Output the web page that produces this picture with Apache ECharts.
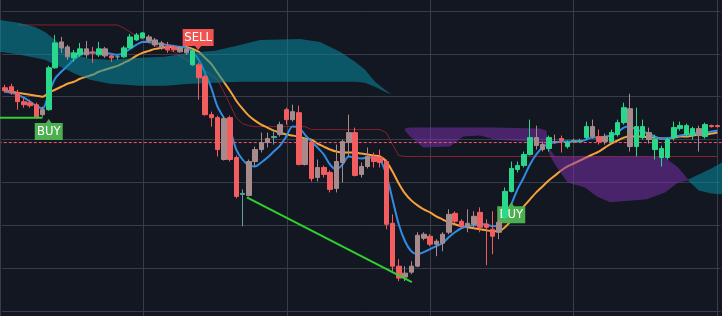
<!DOCTYPE html>
<html>
<head>
<meta charset="utf-8">
<script src="https://cdn.jsdelivr.net/npm/echarts@6/dist/echarts.min.js"></script>
<style>
html, body { margin: 0; padding: 0; background: #131722; }
#chart { width: 722px; height: 316px; }
</style>
</head>
<body>
<div id="chart"></div>
<script>
// candles: [open, close, low, high]
const candles = [
  [224, 221, 219, 227], [225, 219, 217, 228], [219, 210, 202, 222], [210, 207, 204, 214], [209, 206, 204, 212],
  [207, 194, 193, 209], [197, 202, 195, 205], [202, 244, 201, 246], [244, 269, 243, 277], [270, 264, 259, 275],
  [265, 255, 252, 267], [254, 259, 250, 262], [257, 263, 255, 269], [263, 257, 254, 271], [260, 259, 249, 265],
  [257, 263, 255, 270], [263, 256, 254, 265], [256, 254, 250, 257], [255, 255, 252, 257], [255, 264, 254, 266],
  [264, 275, 263, 278], [272, 277, 271, 279], [274, 279, 273, 280], [275, 271, 269, 277], [272, 267, 265, 274],
  [269, 264, 262, 271], [266, 262, 259, 270], [265, 262, 260, 267], [264, 260, 259, 266], [263, 259, 257, 265],
  [247, 261, 246, 263], [247, 234, 212, 249], [235, 197, 196, 237], [197, 194, 185, 200], [194, 162, 155, 196],
  [193, 152, 151, 195], [194, 152, 150, 196], [154, 115, 113, 156], [117, 118, 85, 122], [116, 150, 115, 152],
  [150, 162, 145, 165], [162, 169, 159, 179], [169, 173, 164, 179], [174, 175, 167, 180], [177, 187, 175, 190],
  [202, 192, 187, 204], [192, 200, 190, 207], [199, 147, 146, 206], [172, 147, 146, 174], [169, 133, 130, 172],
  [134, 144, 130, 152], [144, 137, 134, 146], [139, 122, 119, 141], [123, 150, 119, 167], [149, 170, 129, 172],
  [169, 179, 155, 197], [179, 136, 135, 184], [137, 145, 134, 149], [145, 155, 143, 164], [155, 150, 144, 159],
  [154, 149, 144, 162], [150, 87, 82, 152], [88, 45, 40, 97], [45, 33, 30, 52], [34, 38, 30, 45],
  [39, 45, 37, 50], [45, 76, 44, 79], [73, 77, 71, 79], [75, 67, 65, 77], [67, 70, 55, 72],
  [68, 77, 60, 79], [79, 97, 77, 102], [98, 90, 88, 100], [90, 85, 83, 92], [88, 85, 79, 102],
  [87, 95, 83, 100], [99, 84, 79, 104], [87, 84, 46, 92], [82, 75, 57, 100], [79, 89, 72, 91],
  [94, 120, 92, 124], [120, 143, 119, 150], [142, 146, 139, 150], [146, 157, 144, 160], [157, 174, 156, 192],
  [174, 166, 162, 186], [167, 162, 160, 170], [163, 174, 160, 176], [170, 170, 168, 177], [173, 171, 159, 176],
  [165, 169, 163, 171], [170, 171, 169, 173], [170, 171, 169, 173], [174, 185, 172, 190], [185, 175, 173, 192],
  [175, 170, 167, 182], [170, 175, 167, 178], [170, 179, 168, 182], [177, 189, 175, 192], [189, 204, 187, 209],
  [203, 165, 160, 218], [165, 185, 155, 204], [174, 185, 172, 192], [179, 172, 168, 184], [162, 172, 152, 177],
  [154, 163, 145, 166], [154, 172, 152, 174], [174, 184, 171, 190], [183, 186, 181, 190], [177, 186, 174, 188],
  [176, 183, 172, 185], [183, 176, 160, 186], [175, 187, 173, 189], [186, 185, 184, 187], [186, 185, 184, 187]
];
// bars painted grey / teal by the indicator
const mutedBars = [6, 9, 10, 13, 16, 23, 24, 25, 28, 29, 35, 39, 40, 41, 42, 44, 46, 48, 50, 53, 54, 55, 57, 58,
  64, 65, 66, 67, 69, 70, 71, 74, 75, 79, 85, 86, 88, 94, 96, 100, 103, 111];
const crossBars = [18, 38, 43, 91, 92];

const fastLine = [
  220, 219, 217, 214, 210, 206, 203, 218, 233, 240,
  246, 252, 257, 259, 259, 259, 259, 258, 257, 259,
  263, 267, 270, 270, 269, 268, 267, 266, 265, 264,
  260, 252, 239, 224, 205, 194, 182, 162, 152, 146,
  145, 149, 154, 160, 166, 175, 185, 184, 177, 170,
  164, 157, 147, 142, 147, 155, 154, 153, 154, 154,
  152, 137, 112, 87, 70, 60, 57, 59, 62, 65,
  68, 74, 79, 83, 85, 86, 87, 87, 85, 86,
  94, 107, 122, 134, 147, 157, 164, 168, 169, 170,
  170, 170, 170, 172, 174, 174, 175, 176, 179, 184,
  185, 182, 180, 178, 175, 173, 173, 175, 176, 177,
  178, 179, 179, 180, 181
];
const slowLine = [
  221, 220, 219, 218, 217, 216, 215, 219, 222, 225,
  228, 230, 233, 235, 237, 240, 242, 244, 246, 249,
  252, 256, 259, 261, 263, 264, 265, 265, 265, 265,
  263, 260, 254, 248, 239, 230, 221, 211, 203, 196,
  191, 187, 184, 181, 179, 177, 176, 175, 173, 172,
  168, 165, 162, 160, 159, 159, 159, 158, 157, 156,
  155, 150, 140, 128, 118, 111, 106, 102, 99, 95,
  92, 89, 87, 85, 84, 83, 82, 81, 80, 80,
  84, 91, 98, 105, 112, 119, 125, 131, 136, 141,
  145, 148, 151, 154, 157, 160, 164, 168, 171, 174,
  175, 175, 175, 174, 174, 173, 173, 174, 175, 175,
  176, 177, 177, 178, 179
];
const baseLine = [
  null, null, 287, 287, 287, 287, 287, 287, 287, 287,
  287, 287, 287, 287, 287, 287, 287, 287, 287, 284,
  280, 276, 272, 269, 266, 264, 262, 260, 256, 252,
  248, 245, 241, 237, 232, 220, 207, 194, 188, 186,
  185, 185, 185, 185, 185, 185, 185, 185, 185, 182,
  182, 182, 182, 182, 182, 182, 182, 182, 182, 182,
  182, 179, 167, 156, 155, 155, 155, 155, 155, 155,
  155, 155, 155, 155, 155, 155, 155, 155, 155, 155,
  155, 155, 155, 155, 155, 155, 155, 155, 155, 155,
  155, 155, 155, 155, 155, 155, 155, 155, 155, 155,
  155, 155, 155, 155, 155, 155, 155, 155, 155, 155,
  155, 155, 155, 155, 155
];

// cloud outlines: [bar, upper, lower]
const tealCloud = [
  [-0.8, 292, 260], [2.4, 289, 257], [4.8, 285, 254], [6.4, 280, 252], [8, 272, 247], [9.6, 264, 243],
  [11.2, 257, 238], [13.6, 253, 232], [16.8, 252, 228], [21.6, 254, 226], [25.6, 255, 226], [29.6, 259, 228],
  [33.6, 261, 229], [37.6, 267, 230], [40.8, 272, 230], [47.2, 273, 230], [50.4, 270, 230], [53.6, 260, 230],
  [56, 250, 230], [57.6, 242, 229], [59.2, 230, 225], [60.8, 222, 220], [61.9, 217, 217]
];
const purpleCloud = [
  [64, 183, 181], [64.8, 184, 175], [66.9, 184, 164], [71.2, 184, 165], [73.3, 184, 175], [76, 184, 176],
  [78.4, 184, 172], [85.6, 183, 169], [86.6, 181, 166], [87.2, 162, 156], [88, 155, 147], [90, 155, 129],
  [92.8, 155, 124], [94.7, 155, 115], [96.8, 155, 109], [102.7, 155, 112], [105.6, 154, 119],
  [107.7, 144, 129], [109.3, 132, 131]
];
const tealCloud2 = [[109.3, 132, 131], [111, 137, 121], [113, 143, 118], [115, 150, 117]];

const lastPrice = 169;
const trendFlat = [[-0.8, 194], [6, 194]];
const trendDown = [[38.7, 114], [65.1, 29]];
const signals = [
  { text: "BUY", at: [7, 182], up: true },
  { text: "SELL", at: [30.9, 272.5], up: false },
  { text: "BUY", at: [81, 98.5], up: true }
];

const UP = "#29d88b";
const DOWN = "#f25d5f";
const MUTED = "#a68b8d";
const CROSS = "#5aa3a0";

const barData = candles.map((c, i) => {
  let col = null;
  if (mutedBars.includes(i)) col = MUTED;
  if (crossBars.includes(i)) col = CROSS;
  if (!col) return c;
  return { value: c, itemStyle: { color: col, color0: col, borderColor: col, borderColor0: col } };
});

function cloud(points, fill) {
  return {
    type: "custom",
    xAxisIndex: 1,
    yAxisIndex: 0,
    z: 2,
    silent: true,
    data: [[0, 0]],
    renderItem: function (params, api) {
      const upper = points.map((p) => api.coord([p[0], p[1]]));
      const lower = points.map((p) => api.coord([p[0], p[2]])).reverse();
      return { type: "polygon", shape: { points: upper.concat(lower) }, style: { fill: fill } };
    },
  };
}

function signal(s) {
  const path = s.up
    ? "path://M0,4L12,4L15,0L18,4L30,4L30,22L0,22Z"
    : "path://M0,0L30,0L30,18L18,18L15,22L12,18L0,18Z";
  return {
    type: "scatter",
    xAxisIndex: 1,
    yAxisIndex: 0,
    z: 3,
    silent: true,
    symbol: path,
    symbolSize: s.text === "SELL" ? [31, 21] : [28, 21],
    itemStyle: { color: s.up ? "#4caf50" : "#f05350", opacity: 1 },
    label: {
      show: true,
      position: "inside",
      offset: [0, s.up ? 2 : -2],
      formatter: s.text,
      color: "#ffffff",
      fontSize: 13,
      fontFamily: "Liberation Sans Narrow, DejaVu Sans Condensed, sans-serif",
    },
    data: [s.at],
  };
}

const chartDom = document.getElementById("chart");
const myChart = echarts.init(chartDom, null, { renderer: "canvas" });

let option = {
  animation: false,
  backgroundColor: "#131722",
  grid: [
    { left: 1.875, right: 1.375, top: 11, bottom: 5 },
    { left: -2, right: 5, top: 0, bottom: 0 },
  ],
  xAxis: [
    {
      type: "category",
      gridIndex: 0,
      data: candles.map((c, i) => String(i)),
      boundaryGap: true,
      show: false,
    },
    { type: "value", gridIndex: 0, min: -0.5, max: 114.5, show: false },
    {
      type: "value",
      gridIndex: 1,
      min: 0,
      max: 5,
      interval: 1,
      axisLine: { show: false },
      axisTick: { show: false },
      axisLabel: { show: false },
      splitLine: { show: true, lineStyle: { color: "#373c48", width: 1 } },
    },
  ],
  yAxis: [
    {
      type: "value",
      gridIndex: 0,
      min: 0,
      max: 301,
      interval: 43,
      axisLine: { show: false },
      axisTick: { show: false },
      axisLabel: { show: false },
      splitLine: { show: true, lineStyle: { color: "#373c48", width: 1 } },
    },
    { type: "value", gridIndex: 1, show: false },
  ],
  series: [
    {
      name: "base",
      type: "line",
      data: baseLine,
      symbol: "none",
      z: 1,
      lineStyle: { color: "#85222e", width: 1 },
    },
    {
      name: "slow",
      type: "line",
      data: slowLine,
      symbol: "none",
      smooth: 0.3,
      z: 1,
      lineStyle: { color: "#f7a13a", width: 2 },
    },
    {
      name: "fast",
      type: "line",
      data: fastLine,
      symbol: "none",
      smooth: 0.3,
      z: 1,
      lineStyle: { color: "#2f8de4", width: 2 },
    },
    cloud(tealCloud, "rgba(8,140,160,0.55)"),
    cloud(purpleCloud, "rgba(130,50,180,0.5)"),
    cloud(tealCloud2, "rgba(8,140,160,0.55)"),
    {
      name: "last",
      type: "line",
      xAxisIndex: 1,
      data: [[-1, lastPrice], [116, lastPrice]],
      symbol: "none",
      z: 3,
      lineStyle: { color: "#f0566a", width: 1, type: [3, 2] },
    },
    ...signals.map(signal),
    {
      name: "price",
      type: "candlestick",
      data: barData,
      z: 4,
      barWidth: 5,
      itemStyle: { color: UP, color0: DOWN, borderColor: UP, borderColor0: DOWN, borderWidth: 1 },
    },
    {
      type: "line",
      xAxisIndex: 1,
      data: trendFlat,
      symbol: "none",
      z: 5,
      lineStyle: { color: "#2fd12f", width: 2 },
    },
    {
      type: "line",
      xAxisIndex: 1,
      data: trendDown,
      symbol: "none",
      z: 5,
      lineStyle: { color: "#2fd12f", width: 2 },
    },
  ],
};

myChart.setOption(option);
</script>
</body>
</html>
